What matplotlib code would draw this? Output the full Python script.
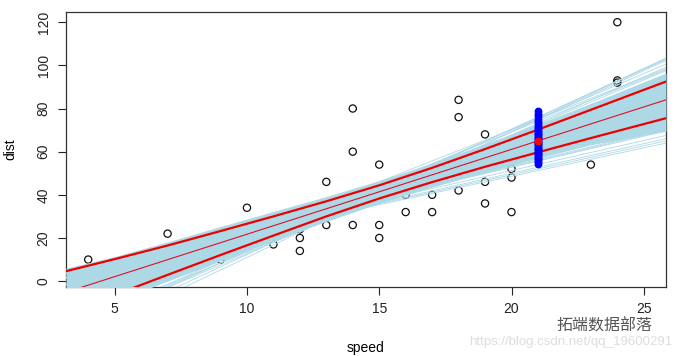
import matplotlib
matplotlib.use("Agg")
import matplotlib.pyplot as plt
import numpy as np

plt.rcParams['font.family'] = ['Liberation Sans', 'DejaVu Sans']

# cars dataset
speed = [4, 4, 7, 7, 8, 9, 10, 10, 10, 11, 11, 12, 12, 12, 12, 13, 13, 13, 13, 14, 14, 14, 14,
         15, 15, 15, 16, 16, 17, 17, 17, 18, 18, 18, 18, 19, 19, 19, 20, 20, 20, 20, 20, 22, 23,
         24, 24, 24, 24, 25]
dist = [2, 10, 4, 22, 16, 10, 18, 26, 34, 17, 28, 14, 20, 24, 28, 26, 34, 34, 46, 26, 36, 60, 80,
        20, 26, 54, 32, 40, 32, 40, 50, 42, 56, 76, 84, 36, 46, 68, 32, 48, 52, 56, 64, 66, 54,
        70, 92, 93, 120, 85]

# posterior line samples (intercept, slope)
line_intercepts = [-17.58, -20.70, -12.62, -27.40, -28.82, -5.72, -9.96, -23.86, -35.06, -5.18,
                   -21.28, -13.88, -40.22, -4.33, -42.26, -47.34, -5.68, -29.48, -4.06, -39.91,
                   -4.60, -26.44, -6.84, -22.58, -16.58, -23.20, -7.34, -26.32, -16.30, -13.30,
                   -44.53, -4.37, -34.60, -35.98, -4.91, -39.60, -21.94, -30.70, -9.58, -8.30]
line_slopes = [3.932, 4.232, 3.532, 4.732, 4.532, 3.032, 3.632, 4.132, 5.132, 2.932,
               4.432, 3.432, 5.532, 2.682, 5.632, 5.832, 2.932, 4.932, 2.632, 5.382,
               2.732, 4.832, 3.332, 3.932, 3.932, 4.232, 3.332, 4.532, 3.732, 3.732,
               5.682, 2.782, 5.232, 4.932, 2.882, 5.232, 4.332, 4.732, 3.432, 3.232]

# dense core of the sample band, read at these speeds
band_x = [3.16, 5, 7, 9, 11, 13, 15, 17, 19, 21, 23, 25.84]
core_upper = [6.0, 11.4, 18.2, 25.3, 32.3, 39.2, 46.6, 54.7, 63.6, 72.8, 82.4, 96.5]
core_lower = [-18.0, -9.5, 0.0, 9.4, 18.7, 27.7, 36.1, 43.6, 50.5, 57.0, 63.2, 69.5]

# mean line and pointwise interval curves
mean_intercept = -17.58
mean_slope = 3.932
upper_q = [4.6, 10.2, 16.5, 23.2, 30.0, 37.0, 44.4, 52.5, 61.2, 70.2, 79.4, 92.5]
lower_q = [-14.9, -6.4, 2.9, 12.1, 21.1, 30.0, 38.3, 45.9, 53.0, 59.7, 66.3, 75.5]

# predicted means at speed 21
pred_x = 21
pred_vals = [54.5, 55.2, 55.8, 56.5, 57.0, 57.6, 58.3, 58.9, 59.4, 60.0, 60.6, 61.2, 61.8,
             62.3, 62.9, 63.5, 64.0, 64.6, 65.1, 65.7, 66.3, 66.9, 67.5, 68.1, 68.8, 69.4,
             70.1, 70.8, 71.6, 72.4, 73.3, 74.2, 75.2, 76.3, 77.5, 78.8]
pred_mean = 65.0

fig = plt.figure(figsize=(6.74, 3.56), dpi=100)
ax = fig.add_axes([66/674, 1-287/356, 600/674, 275/356])
xlim = (3.16, 25.84)
ylim = (-2.72, 124.72)

ax.scatter(speed, dist, s=27, facecolors='none', edgecolors='#111111', linewidths=0.9, zorder=2)

ax.fill_between(band_x, core_lower, core_upper, color='lightblue', lw=0, zorder=3)
xs = np.array(xlim)
for a, b in zip(line_intercepts, line_slopes):
    ax.plot(xs, a + b * xs, color='lightblue', lw=0.6, zorder=3)

ax.plot(xs, mean_intercept + mean_slope * xs, color='#e0102a', lw=0.8, zorder=4)
ax.plot(band_x, upper_q, color='#ee0000', lw=1.6, zorder=4)
ax.plot(band_x, lower_q, color='#ee0000', lw=1.6, zorder=4)

ax.plot([pred_x] * len(pred_vals), pred_vals, 'o', color='blue', ms=4.6, mec='blue', zorder=5)
ax.plot([pred_x], [pred_mean], 'o', color='red', ms=4.6, mec='red', zorder=6)

ax.set_xlim(*xlim)
ax.set_ylim(*ylim)
ax.set_xticks([5, 10, 15, 20, 25])
ax.set_yticks([0, 20, 40, 60, 80, 100, 120])
ax.tick_params(direction='out', length=6, width=0.8, labelsize=10, colors='#222222', pad=5)
for lab in ax.get_yticklabels():
    lab.set_rotation(90)
    lab.set_va('center')
for s in ax.spines.values():
    s.set_color('#333333')
    s.set_linewidth(0.9)

ax.set_xlabel('speed', fontsize=10, labelpad=18)
ax.set_ylabel('dist', fontsize=10, labelpad=14)

fig.text(652/674, 1-326/356, '拓端数据部落', ha='right', va='center', fontsize=11.5,
         color='#555555', family=['Noto Sans CJK SC', 'DejaVu Sans'])
fig.text(672/674, 1-342/356, 'https://blog.csdn.net/qq_19600291', ha='right', va='center',
         fontsize=9.5, color='#dddddd')

fig.savefig('out.png', dpi=100)
